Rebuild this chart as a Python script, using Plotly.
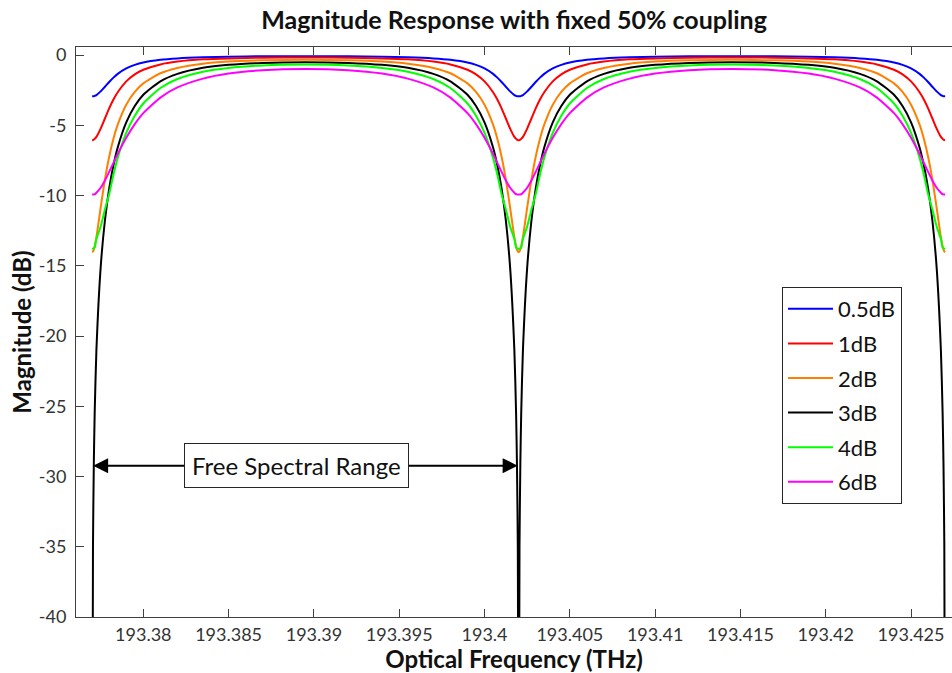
import plotly.graph_objects as go

# Resonance (dip) centre frequencies in THz
DIPS_THZ = [193.377, 193.402, 193.427]

# Frequency offsets from a dip (THz) at which values were read (half period)
OFFSETS_THZ = [0, 0.00005, 0.0001, 0.00015, 0.00025, 0.0005, 0.00075, 0.001,
               0.00125, 0.0015, 0.002, 0.0025, 0.003, 0.004, 0.005, 0.0065,
               0.008, 0.01, 0.0125]

# Magnitude (dB) at the offsets above, per round-trip loss
LABELS = ["0.5dB", "1dB", "2dB", "3dB", "4dB", "6dB"]
MAG_05DB = [-2.94, -2.94, -2.93, -2.91, -2.85, -2.59, -2.26, -1.92, -1.61, -1.34,
            -0.95, -0.70, -0.53, -0.34, -0.24, -0.16, -0.12, -0.09, -0.09]
MAG_1DB = [-6.06, -6.05, -6.02, -5.97, -5.83, -5.24, -4.52, -3.80, -3.17, -2.65,
           -1.88, -1.38, -1.05, -0.67, -0.47, -0.31, -0.24, -0.19, -0.17]
MAG_2DB = [-14.03, -13.98, -13.84, -13.61, -12.97, -10.87, -8.87, -7.24, -5.96, -4.96,
           -3.54, -2.63, -2.02, -1.30, -0.92, -0.62, -0.47, -0.38, -0.34]
MAG_3DB = [-60.0, -35.0, -29.0, -25.5, -21.05, -15.13, -11.78, -9.51, -7.85, -6.58,
           -4.79, -3.63, -2.83, -1.87, -1.34, -0.91, -0.70, -0.56, -0.51]
MAG_4DB = [-13.8, -13.78, -13.75, -13.7, -13.1, -12.2, -11.0, -9.9, -8.5, -7.32,
           -5.55, -4.33, -3.45, -2.35, -1.71, -1.19, -0.92, -0.74, -0.68]
MAG_6DB = [-9.93, -9.93, -9.92, -9.91, -9.80, -9.45, -8.93, -8.32, -7.68, -7.04,
           -5.89, -4.92, -4.14, -3.03, -2.31, -1.68, -1.32, -1.08, -0.99]
COLORS = ["#0000FF", "#FF0000", "#FF8000", "#000000", "#00FF00", "#FF00FF"]

X_TICKS = [193.38, 193.385, 193.39, 193.395, 193.4, 193.405, 193.41, 193.415, 193.42, 193.425]
X_TICK_TEXT = ["193.38", "193.385", "193.39", "193.395", "193.4", "193.405",
               "193.41", "193.415", "193.42", "193.425"]
Y_TICKS = [0, -5, -10, -15, -20, -25, -30, -35, -40]
Y_TICK_TEXT = ["0", "-5", "-10", "-15", "-20", "-25", "-30", "-35", "-40"]

FSR_LABEL = "Free Spectral Range"
FSR_LEVEL_DB = -29.23


def assemble(values):
    pairs = list(zip(OFFSETS_THZ, values))
    xs, ys = [], []
    for i, c in enumerate(DIPS_THZ):
        if i > 0:
            for o, v in reversed(pairs[:-1]):
                xs.append(c - o)
                ys.append(v)
        if i < len(DIPS_THZ) - 1:
            start = 1 if i > 0 else 0
            for o, v in pairs[start:]:
                xs.append(c + o)
                ys.append(v)
    return xs, ys


SERIES = [MAG_05DB, MAG_1DB, MAG_2DB, MAG_3DB, MAG_4DB, MAG_6DB]

fig = go.Figure()
for i, (lab, vals, col) in enumerate(zip(LABELS, SERIES, COLORS)):
    xs, ys = assemble(vals)
    fig.add_trace(go.Scatter(x=xs, y=ys, mode="lines", name=lab,
                             legendgroup=f"g{i}",
                             line=dict(color=col, width=2, shape="spline", smoothing=0.6)))

AX = "#404040"
FONT = "Lato"

fig.update_layout(
    width=952, height=673,
    margin=dict(l=76, r=0, t=47, b=56),
    plot_bgcolor="white", paper_bgcolor="white",
    font=dict(family=FONT, color="#262626"),
    title=dict(text="<b>Magnitude Response with fixed 50% coupling</b>",
               x=0.5, xref="paper", y=1 - 20 / 673, yref="container", yanchor="middle",
               font=dict(family=FONT, size=25, color="#111111")),
    showlegend=True,
    legend=dict(x=(782 - 76) / 876, y=(617 - 287) / 570, xanchor="left", yanchor="top",
                bgcolor="white", bordercolor="#262626", borderwidth=1,
                font=dict(family=FONT, size=22, color="#111111"),
                traceorder="grouped", tracegroupgap=3, itemwidth=45),
)

fig.update_xaxes(
    range=[193.376055, 193.42740], tickmode="array", tickvals=X_TICKS, ticktext=X_TICK_TEXT,
    ticks="inside", ticklen=8, tickcolor=AX, showline=True, linecolor=AX, linewidth=1,
    mirror="ticks", showgrid=False, zeroline=False,
    tickfont=dict(family=FONT, size=18, color="#333333"), ticklabelstandoff=1,
    title=dict(text="<b>Optical Frequency (THz)</b>", standoff=6,
               font=dict(family=FONT, size=24, color="#111111")),
)
fig.update_yaxes(
    range=[-40, 0.57], tickmode="array", tickvals=Y_TICKS, ticktext=Y_TICK_TEXT,
    ticks="inside", ticklen=8, tickcolor=AX, showline=True, linecolor=AX, linewidth=1,
    showgrid=False, zeroline=False,
    tickfont=dict(family=FONT, size=18, color="#333333"), ticklabelstandoff=5,
    title=dict(text="<b>Magnitude (dB)</b>", standoff=0,
               font=dict(family=FONT, size=24, color="#111111")),
)

# Free spectral range arrows (from label towards the two adjacent dips)
fsr_mid = 193.38895
for tip in (DIPS_THZ[0], DIPS_THZ[1]):
    fig.add_annotation(x=tip, y=FSR_LEVEL_DB, ax=fsr_mid, ay=FSR_LEVEL_DB,
                       xref="x", yref="y", axref="x", ayref="y", text="",
                       showarrow=True, arrowhead=2, arrowsize=1.5, arrowwidth=2,
                       arrowcolor="black", standoff=1)
fig.add_annotation(x=fsr_mid, y=FSR_LEVEL_DB, xref="x", yref="y", text=FSR_LABEL,
                   showarrow=False, bgcolor="white", bordercolor="#262626", borderwidth=1,
                   borderpad=7, font=dict(family=FONT, size=24, color="#111111"))

fig.write_html("out.html")
